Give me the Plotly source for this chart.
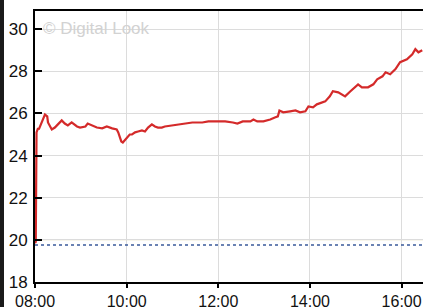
import plotly.graph_objects as go

DAY = "2024-01-02 "
times = ["08:00", "08:01", "08:02", "08:04", "08:05", "08:09", "08:13", "08:16", "08:17", "08:22", "08:26",
         "08:30", "08:35", "08:39", "08:43", "08:48", "08:55", "08:59", "09:06", "09:09", "09:15",
         "09:21", "09:28", "09:34", "09:41", "09:47", "09:49", "09:53", "09:55", "09:58", "10:00",
         "10:04", "10:07", "10:11", "10:15", "10:20", "10:24", "10:28", "10:33", "10:37", "10:41",
         "10:46", "10:50", "10:59", "11:07", "11:17", "11:26", "11:39", "11:47", "11:56", "12:09",
         "12:19", "12:25", "12:32", "12:42", "12:46", "12:51", "12:59", "13:08", "13:14", "13:18",
         "13:20", "13:25", "13:34", "13:41", "13:47", "13:54", "13:58", "14:04", "14:09", "14:13",
         "14:20", "14:26", "14:30", "14:37", "14:46", "14:53", "14:59", "15:03", "15:08", "15:16",
         "15:23", "15:28", "15:35", "15:39", "15:45", "15:52", "15:58", "16:02", "16:07", "16:14",
         "16:18", "16:22", "16:27"]
prices = [19.85, 19.9, 25.1, 25.3, 25.24, 25.6, 25.95, 25.86, 25.57, 25.24, 25.33,
          25.48, 25.67, 25.52, 25.43, 25.57, 25.38, 25.33, 25.38, 25.52, 25.43,
          25.33, 25.29, 25.38, 25.29, 25.24, 25.1, 24.67, 24.62, 24.76, 24.86,
          25.0, 25.0, 25.1, 25.14, 25.19, 25.14, 25.33, 25.48, 25.38, 25.33,
          25.33, 25.38, 25.43, 25.48, 25.52, 25.57, 25.57, 25.62, 25.62, 25.62,
          25.57, 25.52, 25.62, 25.62, 25.71, 25.62, 25.62, 25.71, 25.81, 25.86,
          26.14, 26.05, 26.1, 26.14, 26.05, 26.1, 26.33, 26.29, 26.43, 26.48,
          26.57, 26.81, 27.05, 27.0, 26.81, 27.05, 27.24, 27.38, 27.24, 27.24,
          27.38, 27.62, 27.76, 27.95, 27.86, 28.1, 28.43, 28.48, 28.57, 28.81,
          29.05, 28.9, 29.0]
prev_close = 19.76
y_ticks = [18, 20, 22, 24, 26, 28, 30]
x_ticks = ["08:00", "10:00", "12:00", "14:00", "16:00"]
watermark = "© Digital Look"

x = [DAY + t for t in times]

fig = go.Figure()
fig.add_trace(go.Scatter(x=x, y=prices, mode="lines",
                         line=dict(color="#d42a2a", width=2.2), hoverinfo="skip"))

fig.add_shape(type="line", xref="paper", x0=0, x1=1, yref="y", y0=20, y1=20,
              line=dict(color="#ebe6c8", width=1), layer="below")
fig.add_shape(type="line", xref="paper", x0=0, x1=1, yref="y", y0=prev_close, y1=prev_close,
              line=dict(color="#3a5a9a", width=1.5, dash="dot"))

STRIPE = 4
W, H = 423 - STRIPE, 307
ml, mr, mt, mb = 35 - STRIPE, 0, 11, 25
pw, ph = W - ml - mr, H - mt - mb

fig.add_annotation(text=watermark, xref="paper", yref="paper", x=6 / pw, y=1 - 6 / ph,
                   xanchor="left", yanchor="top", showarrow=False,
                   font=dict(family="Liberation Sans, Arial", size=17, color="#d2d2d2"))

fig.update_layout(
    width=W, height=H, margin=dict(l=ml, r=mr, t=mt, b=mb, autoexpand=False),
    paper_bgcolor="white", plot_bgcolor="white", showlegend=False,
    font=dict(family="Liberation Sans, Arial", size=17, color="#111"),
    xaxis=dict(range=[DAY + "08:00", DAY + "16:28"], tickvals=[DAY + t for t in x_ticks],
               ticktext=x_ticks, showgrid=True, gridcolor="#dcdcdc", gridwidth=1,
               showline=True, linecolor="black", linewidth=2, mirror=True, automargin=False,
               ticks="outside", ticklen=4, tickwidth=1.5, tickcolor="black", zeroline=False,
               tickfont=dict(size=16), ticklabelstandoff=0),
    yaxis=dict(range=[18, 30.86], tickvals=y_ticks, showgrid=True, gridcolor="#dcdcdc",
               gridwidth=1, showline=True, linecolor="black", linewidth=2, automargin=False,
               ticks="inside", ticklen=7, tickwidth=2, tickcolor="black", zeroline=False,
               ticklabelstandoff=2),
)

fig.write_html(
    "out.html",
    config={"displayModeBar": False},
    post_script=(
        "document.body.style.margin='0';"
        "document.body.style.overflow='hidden';"
        "document.body.style.background='#1a1a1a';"
        "var gd=document.querySelector('.plotly-graph-div');"
        "gd.style.marginLeft='%dpx';" % STRIPE
    ),
)
